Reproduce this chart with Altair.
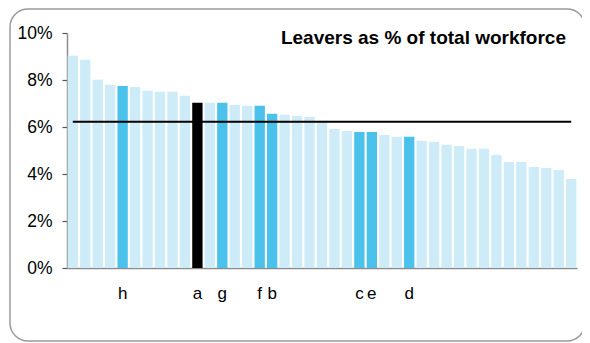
import json
import altair as alt
import pandas as pd

# Leavers as % of total workforce, one bar per organisation (sorted)
values = [9.03, 8.86, 8.01, 7.80, 7.75, 7.70, 7.54, 7.50, 7.50, 7.33,
          7.03, 7.03, 7.03, 6.94, 6.90, 6.90, 6.56, 6.52, 6.47, 6.43,
          6.27, 5.92, 5.83, 5.79, 5.79, 5.66, 5.58, 5.58, 5.41, 5.37,
          5.24, 5.19, 5.07, 5.07, 4.81, 4.51, 4.51, 4.30, 4.26, 4.17,
          3.79]
labels = ["", "", "", "", "h", "", "", "", "", "",
          "a", "", "g", "", "", "f", "b", "", "", "",
          "", "", "", "c", "e", "", "", "d", "", "",
          "", "", "", "", "", "", "", "", "", "",
          ""]
focus_label = "a"
y_ticks = [0, 2, 4, 6, 8, 10]
title_text = "Leavers as % of total workforce"

groups = []
for lab in labels:
    if lab == focus_label:
        groups.append("focus")
    elif lab:
        groups.append("highlight")
    else:
        groups.append("other")

df = pd.DataFrame({"idx": list(range(len(values))), "value": values,
                   "label": labels, "group": groups})

FONT = "Liberation Sans"
label_expr = json.dumps(labels) + "[datum.value]"

x_enc = alt.X("idx:O",
              scale=alt.Scale(paddingInner=0.17, paddingOuter=0.05),
              axis=alt.Axis(title=None, labelExpr=label_expr, labelAngle=0,
                            labelOverlap=False, ticks=False, domainColor="#8c8c8c",
                            domainWidth=1.5, labelFont=FONT, labelFontSize=17,
                            labelColor="black", labelPadding=17))

bars = alt.Chart(df).mark_bar().encode(
    x=x_enc,
    y=alt.Y("value:Q",
            scale=alt.Scale(domain=[0, 10], nice=False),
            axis=alt.Axis(title=None, values=y_ticks, labelExpr="datum.value + '%'",
                          grid=False, domainColor="#8c8c8c", domainWidth=1.5,
                          tickColor="#555555", tickSize=5, tickWidth=1.2,
                          labelFont=FONT, labelFontSize=17.5, labelColor="black",
                          labelPadding=10)),
    color=alt.Color("group:N",
                    scale=alt.Scale(domain=["other", "highlight", "focus"],
                                    range=["#ceecf8", "#4bc2eb", "#000000"]),
                    legend=None),
)

avg_line = alt.Chart(df).transform_joinaggregate(
    avg="mean(value)"
).mark_line(color="black", strokeWidth=2).encode(
    x=alt.X("idx:O"),
    y=alt.Y("avg:Q"),
)

title_mark = alt.Chart(pd.DataFrame({"t": [title_text]})).mark_text(
    font=FONT, fontSize=19, fontWeight="bold", color="black",
    align="right", baseline="alphabetic"
).encode(text="t:N", x=alt.value(499), y=alt.value(10.5))

frame = alt.Chart(pd.DataFrame({"k": [0]})).mark_rect(
    fill=None, stroke="#9a9a9a", strokeWidth=1.5, cornerRadius=18
).encode(
    x=alt.value(-57), x2=alt.value(518), y=alt.value(-24), y2=alt.value(308)
)

chart = alt.layer(bars, avg_line, title_mark, frame).properties(
    width=510, height=235,
    autosize=alt.AutoSizeParams(type="none"),
    padding={"left": 59, "top": 25, "right": 5, "bottom": 76},
).configure_view(stroke=None)

chart.save("out.html", embed_options={"renderer": "svg", "actions": False})
